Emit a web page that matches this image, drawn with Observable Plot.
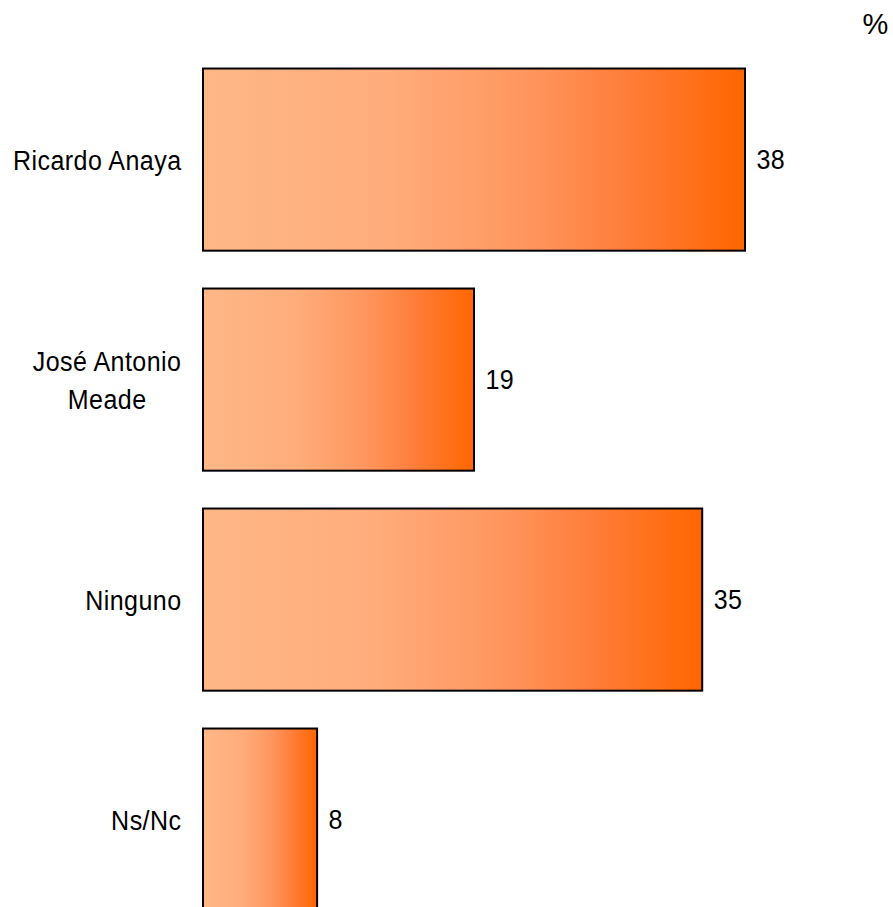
<!DOCTYPE html>
<html>
<head>
<meta charset="utf-8">
<script src="https://cdn.jsdelivr.net/npm/d3@7"></script>
<script src="https://cdn.jsdelivr.net/npm/@observablehq/plot@0.6"></script>
<style>
  html, body { margin: 0; padding: 0; background: #fff; overflow: hidden; }
</style>
</head>
<body>
<div id="chart"></div>
<script>
const categories = ["Ricardo Anaya", "José Antonio\nMeade", "Ninguno", "Ns/Nc"];
const values = [38, 19, 35, 8];
const unitLabel = "%";

const data = categories.map((c, i) => ({category: c, value: values[i]}));

const plot = Plot.plot({
  width: 893,
  height: 907,
  marginLeft: 203,
  marginRight: 148,
  marginTop: 0,
  marginBottom: 0,
  style: {fontFamily: "'Liberation Sans', Arial, sans-serif", fontSize: "27.5px", color: "#000", background: "#fff"},
  x: {domain: [0, 38], axis: null},
  y: {domain: categories, range: [49.6, 929.6], paddingInner: 0.172, paddingOuter: 0.086, align: 0.5, round: false, axis: null},
  marks: [
    Plot.barX(data, {x: "value", y: "category", fill: "url(#barGrad)", stroke: "#000", strokeWidth: 2}),
    Plot.axisY({tickSize: 0, tickPadding: 22, label: null, fontSize: 27.5, lineHeight: 1.38, textAnchor: "end", dy: -2}),
    Plot.text(data, {x: "value", y: "category", text: d => String(d.value), textAnchor: "start", dx: 11, fontSize: 27.5}),
    Plot.text([unitLabel], {frameAnchor: "top-right", text: d => d, dx: 130, dy: 13, textAnchor: "middle", fontSize: 29, fontFamily: "'Liberation Sans', sans-serif"})
  ]
});

const ns = "http://www.w3.org/2000/svg";
const defs = document.createElementNS(ns, "defs");
const grad = document.createElementNS(ns, "linearGradient");
grad.setAttribute("id", "barGrad");
grad.setAttribute("x1", "0"); grad.setAttribute("y1", "0");
grad.setAttribute("x2", "1"); grad.setAttribute("y2", "0");
[["0%", "#FFB788"], ["35%", "#FFAC7A"], ["60%", "#FF965E"], ["80%", "#FF7B35"], ["100%", "#FF6600"]].forEach(([o, c]) => {
  const s = document.createElementNS(ns, "stop");
  s.setAttribute("offset", o);
  s.setAttribute("stop-color", c);
  grad.appendChild(s);
});
defs.appendChild(grad);
plot.insertBefore(defs, plot.firstChild);

document.getElementById("chart").appendChild(plot);

const squeeze = 0.91;
plot.querySelectorAll("text").forEach(t => {
  if (t.textContent === unitLabel) return;
  t.setAttribute("letter-spacing", "0.5");
  const spans = t.querySelectorAll("tspan");
  let ax;
  if (spans.length > 1) {
    // centre the lines of a multi-line label inside its right-aligned block
    const b0 = t.getBBox();
    const right = b0.x + b0.width;
    t.setAttribute("text-anchor", "middle");
    spans.forEach(s => s.setAttribute("x", right - b0.width / 2));
    ax = right;
  } else {
    const b = t.getBBox();
    const anchor = getComputedStyle(t).textAnchor;
    ax = anchor === "end" ? b.x + b.width : anchor === "middle" ? b.x + b.width / 2 : b.x;
  }
  const tr = t.getAttribute("transform") || "";
  t.setAttribute("transform", `${tr} translate(${ax},0) scale(${squeeze},1) translate(${-ax},0)`.trim());
});
</script>
</body>
</html>
